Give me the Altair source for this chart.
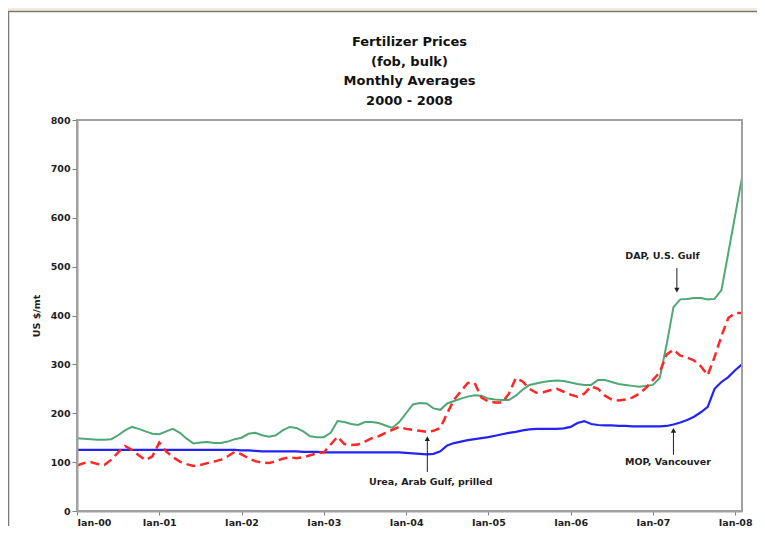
import altair as alt
import pandas as pd

# ---------------- data ----------------
months = list(range(98))  # 0 = Jan-00 ... 97 = Feb-08

dap = [149, 148, 147, 146, 146, 147, 155, 165, 172, 168, 163, 158,
       157, 163, 168, 160, 148, 138, 140, 141, 139, 139, 142, 147,
       150, 158, 160, 155, 152, 155, 165, 172, 170, 163, 153, 151,
       151, 160, 184, 182, 178, 176, 182, 182, 180, 175, 170, 182,
       200, 218, 221, 220, 210, 207, 220, 225, 230, 234, 237, 236,
       230, 228, 227, 227, 236, 248, 258, 261, 264, 266, 267, 266,
       263, 260, 258, 258, 268, 268, 264, 260, 258, 256, 254, 256,
       258, 272, 340, 417, 433, 434, 436, 436, 433, 434, 452, 528,
       605, 682]

urea = [93, 98, 100, 96, 94, 105, 120, 133, 125, 114, 104, 112,
        140, 122, 110, 101, 96, 92, 94, 98, 101, 105, 112, 121,
        116, 108, 102, 99, 98, 102, 107, 110, 108, 110, 114, 118,
        120, 136, 152, 137, 135, 136, 142, 149, 153, 160, 166, 172,
        168, 166, 164, 162, 164, 170, 200, 228, 245, 262, 262, 232,
        224, 222, 222, 240, 272, 265, 250, 242, 243, 247, 250, 244,
        238, 234, 240, 255, 250, 236, 228, 226, 228, 232, 240, 252,
        268, 284, 320, 330, 318, 314, 308, 296, 278, 315, 358, 395,
        405, 405]

mop = [125, 125, 125, 125, 125, 125, 125, 125, 125, 125, 125, 125,
       125, 125, 125, 125, 125, 125, 125, 125, 125, 125, 125, 125,
       124, 124, 123, 122, 122, 122, 122, 122, 122, 121, 121, 121,
       120, 120, 120, 120, 120, 120, 120, 120, 120, 120, 120, 120,
       119, 118, 117, 116, 117, 122, 134, 139, 142, 145, 147, 149,
       151, 154, 157, 160, 162, 165, 167, 168, 168, 168, 168, 169,
       172, 180, 184, 178, 176, 175, 175, 174, 174, 173, 173, 173,
       173, 173, 174, 177, 181, 186, 193, 202, 213, 250, 264, 274,
       288, 300]

x_tick_values = [0, 12, 24, 36, 48, 60, 72, 84, 96]
x_tick_labels = ["Jan-00", "Jan-01", "Jan-02", "Jan-03", "Jan-04",
                 "Jan-05", "Jan-06", "Jan-07", "Jan-08"]
y_tick_values = [0, 100, 200, 300, 400, 500, 600, 700, 800]

title_lines = ["Fertilizer Prices", "(fob, bulk)", "Monthly Averages", "2000 - 2008"]
y_title = "US $/mt"

ann_labels = ["DAP, U.S. Gulf", "Urea, Arab Gulf, prilled", "MOP, Vancouver"]
ann_text_x = [85.4, 51.6, 86.2]
ann_text_y = [522, 59, 100]
arrow_x = [87.5, 51.1, 87.0]
arrow_from = [497, 80, 115]
arrow_to = [452, 148, 165]
arrow_head = ["triangle-down", "triangle-up", "triangle-up"]

# ---------------- styling ----------------
FONT = "DejaVu Sans"
TXT = "#1e1e1e"
GRID = "#a0a0a0"

label_expr = "[" + ",".join("'" + s + "'" for s in x_tick_labels) + "][round(datum.value/12)]"

xs = alt.Scale(domain=[0, 97], nice=False, zero=False)
ys = alt.Scale(domain=[0, 800], nice=False)

x_axis = alt.Axis(values=x_tick_values, labelExpr=label_expr, grid=False, title=None,
                  domainColor=GRID, domainWidth=2, tickColor="#808080", tickSize=4,
                  labelFont=FONT, labelFontWeight="bold", labelFontSize=9.5,
                  labelColor=TXT, labelPadding=2, zindex=1)
y_axis = alt.Axis(values=y_tick_values, grid=False, title=y_title,
                  domainColor=GRID, domainWidth=2, tickColor="#808080", tickSize=5,
                  labelFont=FONT, labelFontWeight="bold", labelFontSize=9.5,
                  labelColor=TXT, labelPadding=2,
                  titleFont=FONT, titleFontSize=9.5, titleFontWeight="bold",
                  titleColor=TXT, titleX=-41, titleY=195.5, titleAngle=270,
                  titleAlign="center", titleBaseline="middle", zindex=1)

dap_df = pd.DataFrame({"m": months, "v": dap})
urea_df = pd.DataFrame({"m": months, "v": urea})
mop_df = pd.DataFrame({"m": months, "v": mop})
ann_df = pd.DataFrame({"label": ann_labels, "tx": ann_text_x, "ty": ann_text_y,
                       "ax": arrow_x, "a1": arrow_from, "a2": arrow_to,
                       "shape": arrow_head})

one = alt.Data(values=[{}])

panel = alt.Chart(one).mark_rect(fill="white", stroke="#7a7a7a", strokeWidth=1.5).encode(
    x=alt.value(-68.5), x2=alt.value(720), y=alt.value(-108.5), y2=alt.value(460))

frame = alt.Chart(one).mark_rect(fillOpacity=0, stroke=GRID, strokeWidth=2).encode(
    x=alt.value(0), x2=alt.value("width"), y=alt.value(0), y2=alt.value("height"))

mop_line = alt.Chart(mop_df).mark_line(color="#2323f5", strokeWidth=2.2).encode(
    x=alt.X("m:Q", scale=xs, axis=x_axis),
    y=alt.Y("v:Q", scale=ys, axis=y_axis))

dap_line = alt.Chart(dap_df).mark_line(color="#4fa874", strokeWidth=2).encode(
    x=alt.X("m:Q", scale=xs), y=alt.Y("v:Q", scale=ys))

urea_line = alt.Chart(urea_df).mark_line(color="#ff2626", strokeWidth=2.5,
                                         strokeDash=[9, 5]).encode(
    x=alt.X("m:Q", scale=xs), y=alt.Y("v:Q", scale=ys))

ann_text = alt.Chart(ann_df).mark_text(font=FONT, fontSize=9.5, fontWeight="bold",
                                       color=TXT, align="center", baseline="middle").encode(
    x=alt.X("tx:Q", scale=xs), y=alt.Y("ty:Q", scale=ys), text="label:N")

ann_rule = alt.Chart(ann_df).mark_rule(color=TXT, strokeWidth=1).encode(
    x=alt.X("ax:Q", scale=xs), y=alt.Y("a1:Q", scale=ys), y2="a2:Q")

ann_head = alt.Chart(ann_df).mark_point(filled=True, color=TXT, opacity=1, size=28).encode(
    x=alt.X("ax:Q", scale=xs), y=alt.Y("a2:Q", scale=ys),
    shape=alt.Shape("shape:N", scale=None, legend=None))

chart = alt.layer(panel, mop_line, dap_line, urea_line, frame,
                  ann_rule, ann_head, ann_text).properties(
    width=665, height=391,
    padding={"left": 69, "top": 112, "right": 15, "bottom": 15},
    autosize=alt.AutoSizeParams(type="none"),
    background="#f3ecdd",
    title=alt.TitleParams(text=title_lines, font=FONT, fontSize=13, fontWeight="bold",
                          color="#111111", lineHeight=19.5, anchor="middle",
                          frame="group", offset=14, dy=111, zindex=1),
).configure_view(stroke=None)

chart.save("out.html", embed_options={"renderer": "svg", "actions": False})
